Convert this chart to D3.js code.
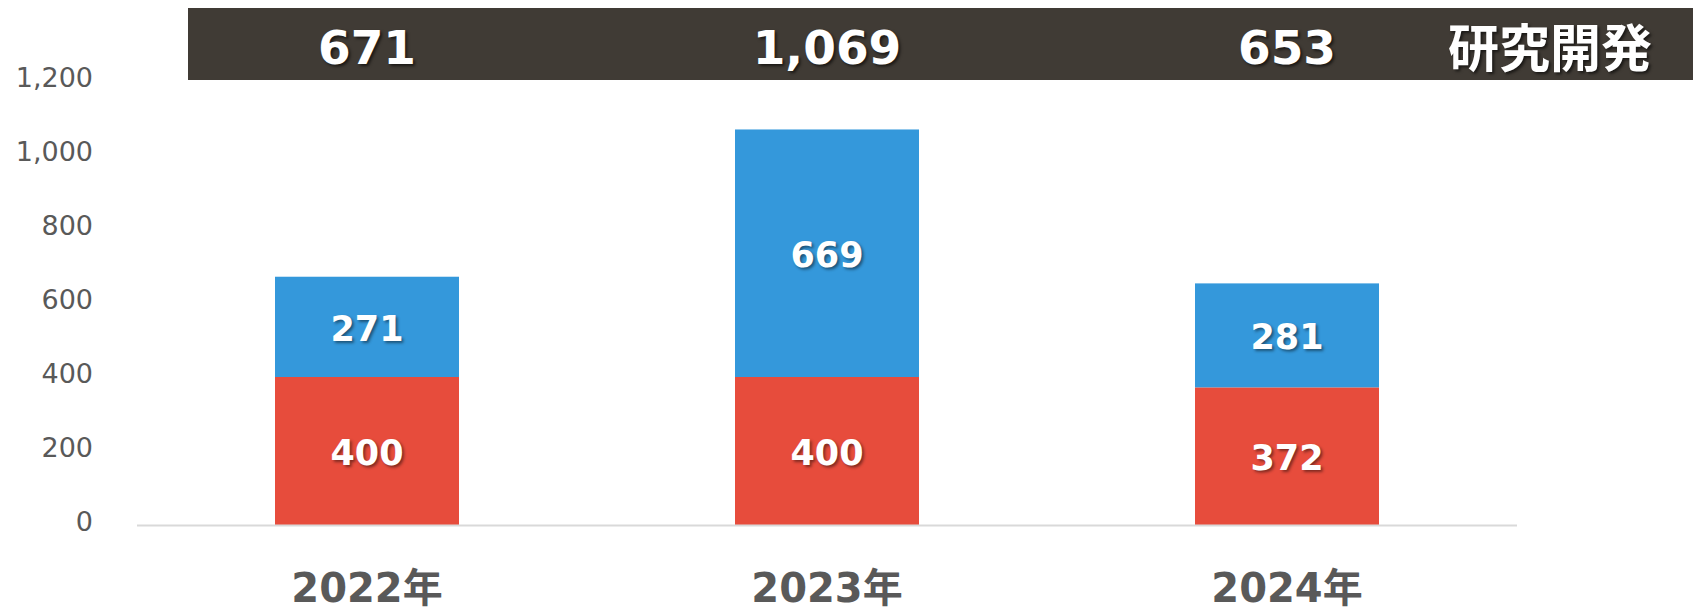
<!DOCTYPE html>
<html>
<head>
<meta charset="utf-8">
<script src="https://cdn.jsdelivr.net/npm/d3@7"></script>
<style>
  html, body { margin: 0; padding: 0; background: #fff; }
  #app { width: 1693px; height: 613px; }
  text { font-family: "DejaVu Sans", "Noto Sans CJK JP", sans-serif; }
</style>
</head>
<body>
<div id="app"></div>
<script>
// data
const years = ["2022年", "2023年", "2024年"];
const redValues = [400, 400, 372];
const blueValues = [271, 669, 281];
const totals = [671, 1069, 653];
const yTicks = [0, 200, 400, 600, 800, 1000, 1200];
const headerTitle = "研究開発";

const width = 1693;
const height = 613;

const svg = d3.select("#app")
  .append("svg")
  .attr("width", width)
  .attr("height", height)
  .attr("viewBox", `0 0 ${width} ${height}`);

const x = d3.scaleBand()
  .domain(years)
  .range([137, 1517])
  .paddingInner(0.6)
  .paddingOuter(0.3);

const y = d3.scaleLinear()
  .domain([0, 1200])
  .range([525, 81]);

const fmt = d3.format(",");

// stacked series
const rows = years.map((yr, i) => ({ year: yr, red: redValues[i], blue: blueValues[i] }));
const stack = d3.stack().keys(["red", "blue"]);
const series = stack(rows);
const colors = { red: "#e74c3c", blue: "#3498db" };

// y axis (labels only)
const yAxis = svg.append("g")
  .attr("transform", "translate(93,-3)")
  .call(d3.axisLeft(y).tickValues(yTicks).tickFormat(fmt).tickSize(0).tickPadding(0));
yAxis.select(".domain").remove();
yAxis.selectAll("text")
  .attr("font-size", 27)
  .attr("fill", "#595959")
  .style("font-family", "'DejaVu Sans', sans-serif");

// bars
svg.append("g")
  .selectAll("g")
  .data(series)
  .join("g")
  .attr("fill", d => colors[d.key])
  .selectAll("rect")
  .data(d => d)
  .join("rect")
  .attr("x", d => x(d.data.year))
  .attr("y", d => y(d[1]))
  .attr("width", x.bandwidth())
  .attr("height", d => y(d[0]) - y(d[1]));

// baseline
svg.append("line")
  .attr("x1", x.range()[0])
  .attr("x2", x.range()[1])
  .attr("y1", y(0) + 0.5)
  .attr("y2", y(0) + 0.5)
  .attr("stroke", "#d9d9d9")
  .attr("stroke-width", 2);

// segment labels
svg.append("g")
  .selectAll("g")
  .data(series)
  .join("g")
  .selectAll("text")
  .data(d => d)
  .join("text")
  .attr("x", d => x(d.data.year) + x.bandwidth() / 2)
  .attr("y", d => (y(d[0]) + y(d[1])) / 2 + 2)
  .attr("text-anchor", "middle")
  .attr("dominant-baseline", "central")
  .attr("font-size", 35)
  .attr("font-weight", "bold")
  .attr("fill", "#fff")
  .style("text-shadow", "2px 2px 3px rgba(0,0,0,0.45)")
  .text(d => fmt(d[1] - d[0]));

// category labels
svg.append("g")
  .selectAll("text")
  .data(years)
  .join("text")
  .attr("x", d => x(d) + x.bandwidth() / 2)
  .attr("y", 602)
  .attr("text-anchor", "middle")
  .attr("font-size", 40)
  .attr("font-weight", "bold")
  .attr("fill", "#595959")
  .text(d => d);

// header band with totals
svg.append("rect")
  .attr("x", 188)
  .attr("y", 8)
  .attr("width", width - 188)
  .attr("height", 72)
  .attr("fill", "#403b35");

svg.append("g")
  .selectAll("text")
  .data(totals)
  .join("text")
  .attr("x", (d, i) => x(years[i]) + x.bandwidth() / 2)
  .attr("y", 64)
  .attr("text-anchor", "middle")
  .attr("font-size", 47)
  .attr("font-weight", "bold")
  .attr("fill", "#fff")
  .style("text-shadow", "2px 2px 3px rgba(0,0,0,0.6)")
  .text(d => fmt(d));

svg.append("text")
  .attr("x", 1652)
  .attr("y", 45)
  .attr("text-anchor", "end")
  .attr("dominant-baseline", "central")
  .attr("font-size", 51)
  .attr("font-weight", "bold")
  .attr("fill", "#fff")
  .style("font-family", "'Noto Sans CJK JP', sans-serif")
  .style("text-shadow", "2px 2px 3px rgba(0,0,0,0.6)")
  .text(headerTitle);
</script>
</body>
</html>
